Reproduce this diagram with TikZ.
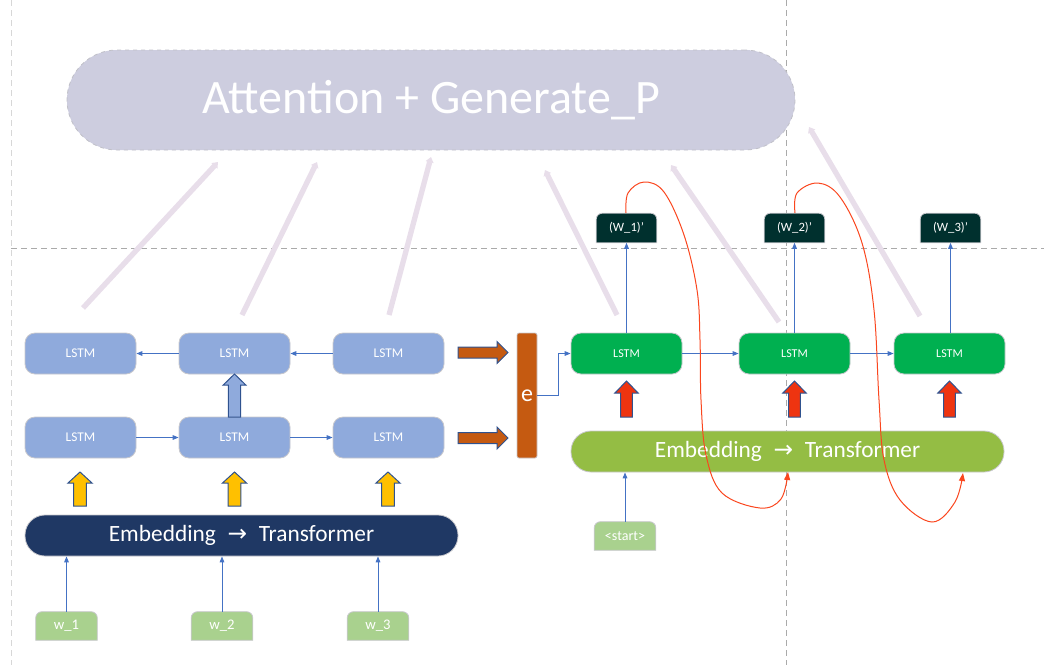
\documentclass[tikz,border=0pt]{standalone}
\usepackage{fontspec}
\setmainfont{Carlito}
\newfontfamily\dejavu{DejaVu Sans}
\usetikzlibrary{arrows.meta,calc,backgrounds}
\definecolor{attc}{RGB}{205,205,223}
\definecolor{attline}{RGB}{192,192,200}
\definecolor{lstmb}{RGB}{143,170,220}
\definecolor{lstmg}{RGB}{0,176,80}
\definecolor{boxline}{RGB}{200,200,205}
\definecolor{navy}{RGB}{31,56,100}
\definecolor{embg}{RGB}{148,189,68}
\definecolor{outc}{RGB}{0,48,46}
\definecolor{orangec}{RGB}{197,90,17}
\definecolor{yellowc}{RGB}{255,192,0}
\definecolor{redarr}{RGB}{238,52,16}
\definecolor{redcurve}{RGB}{250,70,30}
\definecolor{bluec}{RGB}{68,114,196}
\definecolor{blkline}{RGB}{47,82,143}
\definecolor{wgreen}{RGB}{169,209,142}
\definecolor{faintc}{RGB}{232,222,234}
\definecolor{guidec}{RGB}{170,170,170}
\definecolor{guidel}{RGB}{215,215,215}
\newcommand\blkup[7]{%
  \filldraw[blk,fill=#4] ({#1-#5},#3) -- ({#1-#5},{#2+#7}) -- ({#1-#6},{#2+#7}) -- (#1,#2)
    -- ({#1+#6},{#2+#7}) -- ({#1+#5},{#2+#7}) -- ({#1+#5},#3) -- cycle;}
\newcommand\blkright[7]{%
  \filldraw[blk,fill=#4] (#2,{#1-#5}) -- ({#3-#7},{#1-#5}) -- ({#3-#7},{#1-#6}) -- (#3,#1)
    -- ({#3-#7},{#1+#6}) -- ({#3-#7},{#1+#5}) -- (#2,{#1+#5}) -- cycle;}
\newcommand\toprnd[2]{%
  \filldraw[fill=#2,draw=boxline,line width=0.6pt] (#1.south west) [rounded corners=4.5pt] -- (#1.north west) -- (#1.north east) [sharp corners] -- (#1.south east) -- cycle;}
\begin{document}
\begin{tikzpicture}[x=0.75pt,y=-0.75pt,
  guide/.style={draw=guidec,line width=0.75pt,dash pattern=on 4.5pt off 3pt},
  faint/.style={draw=faintc,line width=4pt,-{Triangle[width=6pt,length=4pt]}},
  lstmL/.style={fill=lstmb,draw=boxline,line width=0.6pt,rounded corners=7.5pt,minimum width=83.25pt,minimum height=30.75pt,inner sep=0pt,text=white,font=\fontsize{10}{12}\selectfont},
  lstmG/.style={lstmL,fill=lstmg,font=\fontsize{9}{11}\selectfont},
  capsule/.style={draw=boxline,line width=0.6pt,rounded corners=15pt,minimum width=324.75pt,minimum height=30.75pt,inner sep=0pt,text=white,font=\fontsize{17.5}{20}\selectfont},
  smallbox/.style={minimum width=45.75pt,minimum height=21pt,inner sep=0pt,text=white},
  conn/.style={draw=bluec,line width=0.75pt,-{Triangle[length=4.5pt,width=3.5pt]}},
  redc/.style={draw=redcurve,line width=0.75pt,-{Triangle[length=6pt,width=4.5pt]}},
  blk/.style={draw=blkline,line width=0.75pt,line join=miter}]
\useasboundingbox (0,0) rectangle (1044,665);
% guides
\draw[guide,draw=guidel] (11,0) -- (11,665);
\draw[guide] (11,248) -- (1044,248);
\draw[guide] (786,0) -- (786,665);
% attention
\node[fill=attc,draw=attline,dashed,line width=0.6pt,rounded corners=37.5pt,minimum width=546pt,minimum height=75pt,inner sep=0pt,text=white,font=\fontsize{36}{40}\selectfont] (att) at (431,100) {Attention + Generate\_P};
% faint attention links
\coordinate (f1a) at (83,308); \coordinate (f1b) at (218,162);
\coordinate (f2a) at (242,315); \coordinate (f2b) at (317,162);
\coordinate (f3a) at (389,315); \coordinate (f3b) at (431,157);
\coordinate (f4a) at (617,315); \coordinate (f4b) at (545,170);
\coordinate (f5a) at (779,322); \coordinate (f5b) at (671,165);
\coordinate (f6a) at (920,316); \coordinate (f6b) at (809,127);
\foreach \i in {1,...,6} {\draw[faint] (f\i a) -- (f\i b);}
% left LSTMs
\node[lstmL] (L1t) at (80.5,353.5) {LSTM};
\node[lstmL] (L2t) at (234.5,353.5) {LSTM};
\node[lstmL] (L3t) at (388.5,353.5) {LSTM};
\node[lstmL] (L1b) at (80.5,437.5) {LSTM};
\node[lstmL] (L2b) at (234.5,437.5) {LSTM};
\node[lstmL] (L3b) at (388.5,437.5) {LSTM};
\draw[conn] (L2t) -- (L1t);
\draw[conn] (L3t) -- (L2t);
\draw[conn] (L1b) -- (L2b);
\draw[conn] (L2b) -- (L3b);
\blkup{234.5}{374}{417}{lstmb}{6.2}{11.3}{11}
% encoder embedding
\node[capsule,fill=navy] (embL) at (241.5,535.5) {Embedding\hspace{0.5em}{\dejavu →}\hspace{0.5em}Transformer};
\blkup{80}{472}{506}{yellowc}{6.3}{12}{11}
\blkup{234.5}{472}{506}{yellowc}{6.3}{12}{11}
\blkup{388}{472}{506}{yellowc}{6.3}{12}{11}
% words
\path (66.5,626) node[smallbox] (w1) {}
      (222,626) node[smallbox] (w2) {}
      (378,626) node[smallbox] (w3) {};
\begin{scope}[on background layer]
\toprnd{w1}{wgreen}\toprnd{w2}{wgreen}\toprnd{w3}{wgreen}
\end{scope}
\node[smallbox,font=\fontsize{11}{13}\selectfont] at (w1) {w\_1};
\node[smallbox,font=\fontsize{11}{13}\selectfont] at (w2) {w\_2};
\node[smallbox,font=\fontsize{11}{13}\selectfont] at (w3) {w\_3};
\draw[conn] (w1.north) -- (w1.north |- embL.south);
\draw[conn] (w2.north) -- (w2.north |- embL.south);
\draw[conn] (w3.north) -- (w3.north |- embL.south);
% e bar
\node[fill=orangec,draw=boxline,line width=0.5pt,rounded corners=1.5pt,minimum width=15pt,minimum height=93.75pt,inner sep=0pt,text=white,font=\fontsize{18}{20}\selectfont] (e) at (527,395.5) {e};
\blkright{352.5}{458}{508}{orangec}{5.5}{11}{11}
\blkright{438}{458}{508}{orangec}{5.5}{11}{11}
% decoder LSTMs
\node[lstmG] (G1) at (626.5,353.5) {LSTM};
\node[lstmG] (G2) at (794.5,353.5) {LSTM};
\node[lstmG] (G3) at (949.5,353.5) {LSTM};
\draw[conn] (e.east |- 0,395) -- ++(21,0) |- (G1.west);
\draw[conn] (G1) -- (G2);
\draw[conn] (G2) -- (G3);
% decoder embedding
\node[capsule,fill=embg] (embR) at (787.5,451.5) {Embedding\hspace{0.5em}{\dejavu →}\hspace{0.5em}Transformer};
\blkup{626.5}{381}{417}{redarr}{5.9}{11.6}{12}
\blkup{794.5}{381}{417}{redarr}{5.9}{11.6}{12}
\blkup{949.5}{381}{417}{redarr}{5.9}{11.6}{12}
% outputs
\path (626.5,228) node[smallbox,minimum width=45pt,minimum height=21.75pt] (o1) {}
      (794.5,228) node[smallbox,minimum width=45pt,minimum height=21.75pt] (o2) {}
      (950.5,228) node[smallbox,minimum width=45pt,minimum height=21.75pt] (o3) {};
\toprnd{o1}{outc}\toprnd{o2}{outc}\toprnd{o3}{outc}
\node[smallbox,font=\fontsize{9.5}{11}\selectfont] at (o1) {(W\_1)’};
\node[smallbox,font=\fontsize{9.5}{11}\selectfont] at (o2) {(W\_2)’};
\node[smallbox,font=\fontsize{9.5}{11}\selectfont] at (o3) {(W\_3)’};
\draw[conn] (G1.north) -- (o1.south);
\draw[conn] (G2.north) -- (o2.south);
\draw[conn] (G3.north -| o3.south) -- (o3.south);
% start
\path (625,536) node[smallbox] (st) {};
\toprnd{st}{wgreen}
\node[smallbox,font=\fontsize{10.5}{12}\selectfont] at (st) {<start>};
\draw[conn] (st.north) -- (st.north |- embR.south);
% feedback curves
\coordinate (r1) at (788,472);
\coordinate (r2) at (963,473);
\draw[redc] plot[smooth,tension=0.6] coordinates {(626,213) (628,193) (644,182) (664,192) (684,235) (697,290) (700,340) (701,400) (706,455) (722,493) (760,508) (781,499) (r1)};
\draw[redc] plot[smooth,tension=0.6] coordinates {(795,213) (797,193) (818,183) (840,197) (862,243) (874,310) (879,400) (884,460) (900,500) (932,522) (955,502) (r2)};
\end{tikzpicture}
\end{document}
